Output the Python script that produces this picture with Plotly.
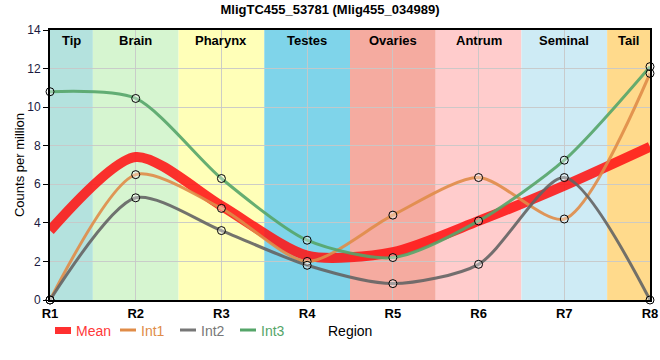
import plotly.graph_objects as go

regions = ["R1", "R2", "R3", "R4", "R5", "R6", "R7", "R8"]
int1 = [0, 6.5, 4.75, 2.0, 4.4, 6.35, 4.2, 11.75]
int2 = [0, 5.3, 3.6, 1.8, 0.85, 1.85, 6.35, 0]
int3 = [10.8, 10.45, 6.3, 3.1, 2.2, 4.1, 7.25, 12.1]
mean = [round((a + b + c) / 3, 3) for a, b, c in zip(int1, int2, int3)]

tissues = ["Tip", "Brain", "Pharynx", "Testes", "Ovaries", "Antrum", "Seminal", "Tail"]
tissue_start = [0, 0.5, 1.5, 2.5, 3.5, 4.5, 5.5, 6.5]
tissue_end = [0.5, 1.5, 2.5, 3.5, 4.5, 5.5, 6.5, 7]
tissue_colors = ["#b4e2de", "#d6f5d0", "#ffffb8", "#7fd4ea", "#f5aba0", "#ffcccc", "#ceebf5", "#ffda8c"]

xs = list(range(len(regions)))
font = "Liberation Sans, Arial, sans-serif"
SMOOTH = 0.75

# plot area in pixels (for placing legend items)
L, R, T, B = 50, 650, 30, 300
def px(x):
    return (x - L) / (R - L)
def py(y):
    return (B - y) / (B - T)

fig = go.Figure()

series = [("Mean", mean, "rgba(255,20,20,0.88)", "#ff3838", 10),
          ("Int1", int1, "rgba(224,140,72,0.9)", "#e08c48", 3),
          ("Int2", int2, "rgba(100,100,100,0.9)", "#777777", 3),
          ("Int3", int3, "rgba(85,165,105,0.9)", "#55a569", 3)]
for name, vals, col, tcol, w in series:
    fig.add_trace(go.Scatter(x=xs, y=vals, mode="lines", name=name, showlegend=False,
                             line=dict(color=col, width=w, shape="spline", smoothing=SMOOTH)))
for name, vals, col, tcol, w in series[1:]:
    fig.add_trace(go.Scatter(x=xs, y=vals, mode="markers", showlegend=False, cliponaxis=False,
                             marker=dict(symbol="circle", size=8, color="rgba(255,255,255,0.35)",
                                         line=dict(color="black", width=1))))

for t, s, e, c in zip(tissues, tissue_start, tissue_end, tissue_colors):
    fig.add_shape(type="rect", xref="x", yref="paper", x0=s, x1=e, y0=0, y1=1,
                  fillcolor=c, line=dict(width=0), layer="below")
    fig.add_annotation(x=(s + e) / 2, y=1, xref="x", yref="paper", yanchor="top", yshift=-1,
                       text=f"<b>{t}</b>", showarrow=False, font=dict(size=13, color="black", family=font))

# legend drawn below the axis
leg_x = [55, 120, 180, 240]
for (name, vals, col, tcol, w), lx in zip(series, leg_x):
    if w > 5:
        fig.add_shape(type="rect", xref="paper", yref="paper", x0=px(lx), x1=px(lx + 16),
                      y0=py(334), y1=py(327), fillcolor="#ff3030", line=dict(width=0))
    else:
        fig.add_shape(type="line", xref="paper", yref="paper", x0=px(lx), x1=px(lx + 16),
                      y0=py(330), y1=py(330), line=dict(color=tcol, width=3))
    fig.add_annotation(text=name, xref="paper", yref="paper", x=px(lx + 19), y=py(331),
                       xanchor="left", yanchor="middle", showarrow=False,
                       font=dict(size=14, color=tcol, family=font))

fig.add_annotation(text="Region", xref="paper", yref="paper", x=0.5, y=py(331),
                   xanchor="center", yanchor="middle", showarrow=False,
                   font=dict(size=14, color="black", family=font))

fig.update_layout(
    width=660, height=360,
    margin=dict(l=L, r=660 - R, t=T, b=360 - B),
    paper_bgcolor="white", plot_bgcolor="white",
    font=dict(family=font, size=12, color="black"),
    title=dict(text="<b>MligTC455_53781 (Mlig455_034989)</b>", x=0.5, xanchor="center",
               y=1 - 9 / 360, yanchor="middle", font=dict(size=13)),
    showlegend=False,
)
fig.update_xaxes(range=[0, 7], tickvals=xs, ticktext=[f"<b>{r}</b>" for r in regions],
                 showgrid=True, gridcolor="rgba(200,200,200,0.9)", gridwidth=1,
                 showline=True, linecolor="black", linewidth=2, mirror=True,
                 ticks="", zeroline=False, automargin=False,
                 tickfont=dict(size=13, color="black"))
fig.update_yaxes(range=[0, 14], dtick=2, showgrid=True, gridcolor="rgba(200,200,200,0.9)",
                 showline=True, linecolor="black", linewidth=2, mirror=True,
                 ticks="outside", ticklen=5, tickcolor="black", zeroline=False, automargin=False,
                 title=dict(text="Counts per million", font=dict(size=13), standoff=0),
                 tickfont=dict(size=12, color="#1a1a40"))

fig.write_html("out.html", config={"displayModeBar": False},
               post_script="document.body.style.margin='0px';")
